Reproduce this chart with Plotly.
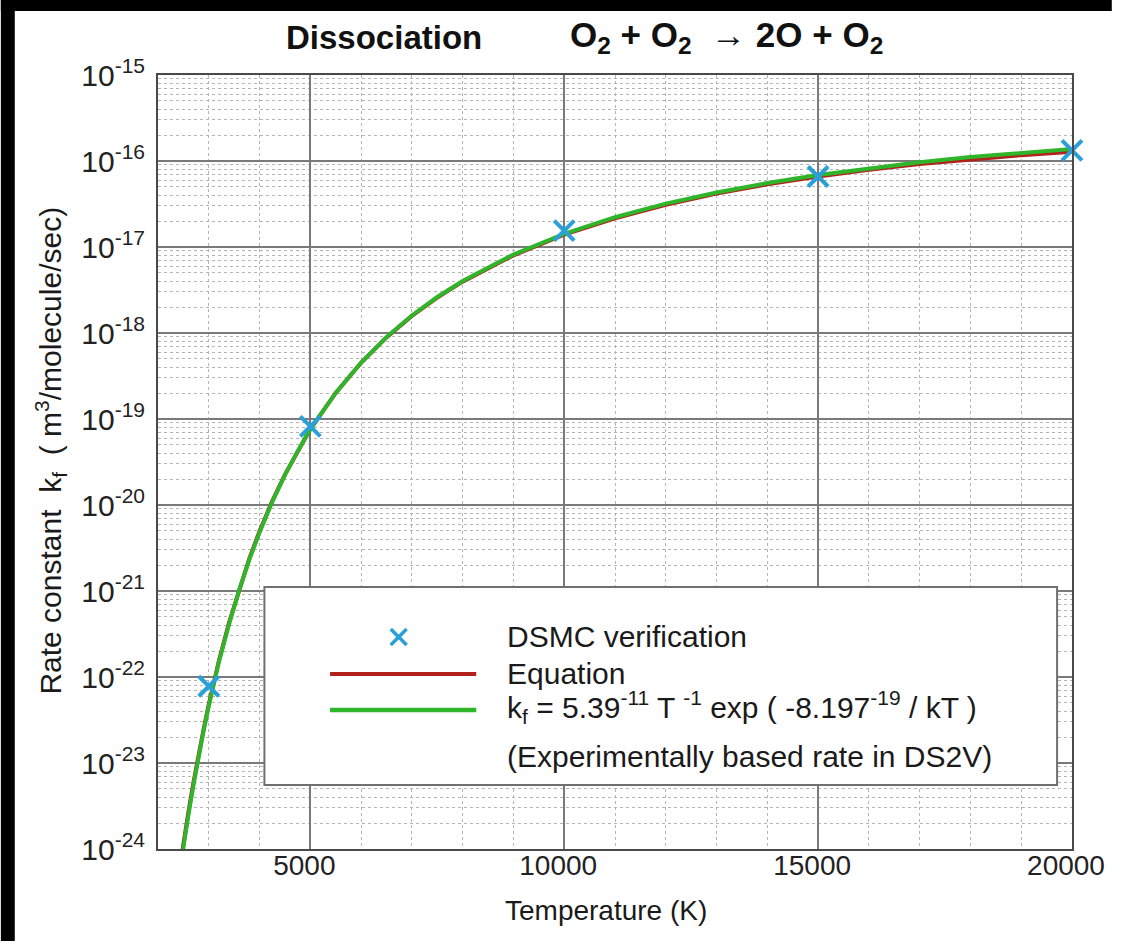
import plotly.graph_objects as go

# ---------------- data ----------------
T_curve = [2480, 2500, 2600, 2700, 2800, 2900, 3000, 3200, 3400, 3600, 3800, 4000,
           4250, 4500, 4750, 5000, 5500, 6000, 6500, 7000, 7500, 8000, 9000, 10000,
           11000, 12000, 13000, 14000, 15000, 16000, 17000, 18000, 19000, 20000]

k_experimental = [8.7e-25, 1.05e-24, 2.5e-24, 5.6e-24, 1.2e-23, 2.4e-23, 4.6e-23, 1.5e-22,
                  4.1e-22, 1.03e-21, 2.33e-21, 4.8e-21, 1.09e-20, 2.23e-20, 4.23e-20, 7.6e-20,
                  2.01e-19, 4.53e-19, 8.96e-19, 1.6e-18, 2.62e-18, 4.03e-18, 8.17e-18, 1.42e-17,
                  2.22e-17, 3.19e-17, 4.31e-17, 5.54e-17, 6.87e-17, 8.24e-17, 9.66e-17, 1.11e-16,
                  1.25e-16, 1.38e-16]

k_equation = [9.5e-25, 1.15e-24, 2.7e-24, 6.0e-24, 1.27e-23, 2.5e-23, 4.8e-23, 1.55e-22,
              4.3e-22, 1.06e-21, 2.4e-21, 4.95e-21, 1.11e-20, 2.26e-20, 4.27e-20, 7.65e-20,
              2.01e-19, 4.5e-19, 8.9e-19, 1.58e-18, 2.58e-18, 3.96e-18, 8.0e-18, 1.39e-17,
              2.16e-17, 3.1e-17, 4.18e-17, 5.35e-17, 6.6e-17, 7.9e-17, 9.2e-17, 1.05e-16,
              1.17e-16, 1.28e-16]

T_dsmc = [3000, 5000, 10000, 15000, 20000]
k_dsmc = [7.8e-23, 8.2e-20, 1.55e-17, 6.6e-17, 1.33e-16]

x_tickvals = [5000, 10000, 15000, 20000]
x_ticktext = ["5000", "10000", "15000", "20000"]
y_exponents = [-15, -16, -17, -18, -19, -20, -21, -22, -23, -24]

legend_labels = ["DSMC verification", "Equation",
                 "k<sub>f</sub> = 5.39<sup>-11</sup> T <sup>-1</sup> exp ( -8.197<sup>-19</sup> / kT )",
                 "(Experimentally based rate in DS2V)"]

# ---------------- styling ----------------
FONT = "Liberation Sans, Arial, sans-serif"
RED = "#b3211c"
GREEN = "#2fb52a"
BLUE = "#2a9fd8"
W, H = 1117, 941
L, R, T, B = 158, 40, 75, 92
PW, PH = W - L - R, H - T - B


def px(xp):
    return (xp - L) / PW


def py(yp):
    return (H - B - yp) / PH


fig = go.Figure()
fig.add_trace(go.Scatter(x=T_curve, y=k_equation, mode="lines",
                         line=dict(color=RED, width=4), showlegend=False))
fig.add_trace(go.Scatter(x=T_curve, y=k_experimental, mode="lines",
                         line=dict(color=GREEN, width=4), showlegend=False))
fig.add_trace(go.Scatter(x=T_dsmc, y=k_dsmc, mode="markers", cliponaxis=False,
                         marker=dict(symbol="x-thin", size=20, color=BLUE,
                                     line=dict(width=4, color=BLUE)),
                         showlegend=False))

fig.update_xaxes(range=[2000, 20000], tickvals=x_tickvals, ticktext=x_ticktext,
                 showgrid=True, gridcolor="#7a7a7a", gridwidth=1.5,
                 showline=True, mirror=True, linecolor="#4a4a4a", linewidth=2,
                 ticks="", ticklabelstandoff=-10, ticklabelshift=-6,
                 tickfont=dict(family=FONT, size=28, color="#222"),
                 minor=dict(dtick=1000, tick0=0, showgrid=True, gridcolor="#b4b4b4",
                            griddash="dot", gridwidth=1),
                 zeroline=False)
fig.update_yaxes(type="log", range=[-24, -15],
                 tickvals=[10.0 ** e for e in y_exponents],
                 ticktext=["10<sup>%d</sup>" % e for e in y_exponents],
                 showgrid=True, gridcolor="#7a7a7a", gridwidth=1.5,
                 showline=True, mirror=True, linecolor="#4a4a4a", linewidth=2,
                 ticks="", ticklabelstandoff=5,
                 tickfont=dict(family=FONT, size=30, color="#222"),
                 minor=dict(dtick="D1", showgrid=True, gridcolor="#b4b4b4",
                            griddash="dot", gridwidth=1),
                 zeroline=False)

shapes = []
# black frame bands of the screenshot
shapes.append(dict(type="rect", xref="paper", yref="paper", x0=px(0), x1=px(14), y0=py(H), y1=py(0),
                   fillcolor="black", line=dict(width=0), layer="above"))
shapes.append(dict(type="rect", xref="paper", yref="paper", x0=px(0), x1=px(W), y0=py(11), y1=py(0),
                   fillcolor="black", line=dict(width=0), layer="above"))
# legend box
shapes.append(dict(type="rect", xref="paper", yref="paper", x0=px(265), x1=px(1062), y0=py(785), y1=py(587),
                   fillcolor="white", line=dict(color="#707070", width=2), layer="above"))
# legend samples
shapes.append(dict(type="line", xref="paper", yref="paper", x0=px(331), x1=px(478), y0=py(674), y1=py(674),
                   line=dict(color=RED, width=4), layer="above"))
shapes.append(dict(type="line", xref="paper", yref="paper", x0=px(331), x1=px(478), y0=py(710), y1=py(710),
                   line=dict(color=GREEN, width=4.5), layer="above"))
shapes.append(dict(type="line", xref="paper", yref="paper", x0=px(392), x1=px(408), y0=py(629), y1=py(645),
                   line=dict(color=BLUE, width=3.5), layer="above"))
shapes.append(dict(type="line", xref="paper", yref="paper", x0=px(392), x1=px(408), y0=py(645), y1=py(629),
                   line=dict(color=BLUE, width=3.5), layer="above"))

annotations = []
legend_y = [636, 673, 707, 756]
for lab, yy in zip(legend_labels, legend_y):
    annotations.append(dict(text=lab, xref="paper", yref="paper", x=px(507), y=py(yy),
                            xanchor="left", yanchor="middle", showarrow=False,
                            font=dict(family=FONT, size=30, color="#1a1a1a")))
# titles
annotations.append(dict(text="<b>Dissociation</b>", xref="paper", yref="paper", x=px(385), y=py(37),
                        xanchor="center", yanchor="middle", showarrow=False,
                        font=dict(family=FONT, size=33, color="#111")))
annotations.append(dict(text="<b>O<sub>2</sub> + O<sub>2</sub>  \u2192 2O + O<sub>2</sub></b>",
                        xref="paper", yref="paper", x=px(730), y=py(37),
                        xanchor="center", yanchor="middle", showarrow=False,
                        font=dict(family=FONT, size=35, color="#111")))
annotations.append(dict(text="Temperature (K)", xref="paper", yref="paper", x=px(608), y=py(910),
                        xanchor="center", yanchor="middle", showarrow=False,
                        font=dict(family=FONT, size=28, color="#1a1a1a")))
annotations.append(dict(text="Rate constant  k<sub>f</sub>  ( m<sup>3</sup>/molecule/sec)",
                        xref="paper", yref="paper", x=px(50), y=py(451), textangle=-90,
                        xanchor="center", yanchor="middle", showarrow=False,
                        font=dict(family=FONT, size=30, color="#1a1a1a")))

fig.update_layout(width=W, height=H, margin=dict(l=L, r=R, t=T, b=B),
                  paper_bgcolor="white", plot_bgcolor="white",
                  showlegend=False, shapes=shapes, annotations=annotations)

fig.write_html("out.html", config={"displayModeBar": False},
               post_script="document.body.style.margin='0';document.body.style.padding='0';"
                           "document.body.style.overflow='hidden';"
                           "document.documentElement.style.margin='0';"
                           "document.documentElement.style.overflow='hidden';")
